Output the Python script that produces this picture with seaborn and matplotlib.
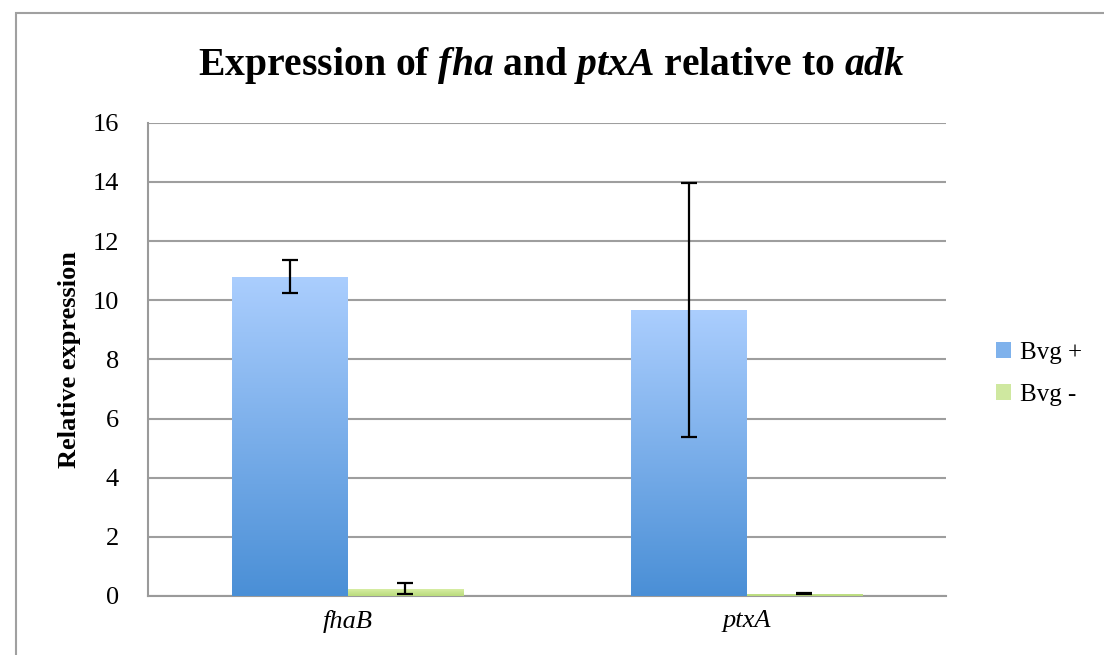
import numpy as np
import pandas as pd
import matplotlib
matplotlib.use("Agg")
import matplotlib.pyplot as plt
import seaborn as sns
from matplotlib.patches import Rectangle, Patch
from matplotlib.colors import LinearSegmentedColormap

genes = ["fhaB", "ptxA"]
conditions = ["Bvg +", "Bvg -"]
bvg_plus = [10.80, 9.67]
bvg_plus_err = [0.56, 4.29]
bvg_minus = [0.25, 0.08]
bvg_minus_err = [0.18, 0.02]
yticks = [0, 2, 4, 6, 8, 10, 12, 14, 16]

df = pd.DataFrame({
    "gene": genes * 2,
    "condition": [conditions[0]] * 2 + [conditions[1]] * 2,
    "value": bvg_plus + bvg_minus,
    "err": bvg_plus_err + bvg_minus_err,
})

sns.set_theme(style="white")
plt.rcParams["font.family"] = ["Liberation Serif", "DejaVu Serif"]
plt.rcParams["text.color"] = "black"
plt.rcParams["axes.labelcolor"] = "black"
plt.rcParams["xtick.color"] = "black"
plt.rcParams["ytick.color"] = "black"
plt.rcParams["mathtext.fontset"] = "custom"
plt.rcParams["mathtext.it"] = "Liberation Serif:italic"
plt.rcParams["mathtext.bf"] = "Liberation Serif:bold"
plt.rcParams["mathtext.bfit"] = "Liberation Serif:italic:bold"
plt.rcParams["mathtext.rm"] = "Liberation Serif"

fig = plt.figure(figsize=(11.04, 6.55), dpi=100)
ax = fig.add_axes([148/1104, 1-596/655, (946-148)/1104, (596-122.7)/655])

blue_mid = "#6fa7e6"
green_mid = "#cbe597"
sns.barplot(data=df, x="gene", y="value", hue="condition", order=genes,
            hue_order=conditions, palette=[blue_mid, green_mid], width=0.577,
            ax=ax, errorbar=None, legend=False, saturation=1)

grads = {
    0: LinearSegmentedColormap.from_list("b", ["#4a8fd6", "#abcefe"]),
    1: LinearSegmentedColormap.from_list("g", ["#b9db7c", "#e2f4b2"]),
}
grad_img = np.linspace(0, 1, 256).reshape(-1, 1)
patches = list(ax.patches)
vals = df["value"].tolist()
errs = df["err"].tolist()
for i, p in enumerate(patches[:4]):
    hue_i = i // 2
    x0, w = p.get_x(), p.get_width()
    h = p.get_height()
    p.set_edgecolor("none")
    p.set_facecolor("none")
    top = max(h, 0.0)
    im = ax.imshow(grad_img, cmap=grads[hue_i], aspect="auto", origin="lower",
                   extent=[x0, x0 + w, 0, top if hue_i == 0 else max(top, 0.3)],
                   zorder=3, interpolation="bicubic")
    im.set_clip_path(p)
    ax.errorbar(x0 + w/2, vals[i], yerr=errs[i], fmt="none", ecolor="black",
                elinewidth=1.6, capsize=5.8, capthick=1.6, zorder=4)

ax.set_xlim(-0.5, 1.5)
ax.set_ylim(0, 16)
ax.set_yticks(yticks)
ax.set_yticklabels([str(t) for t in yticks], fontsize=19)
ax.set_xticks([0, 1])
ax.set_xticklabels(genes, fontsize=19, style="italic")
ax.set_xticks([-0.5, 0.5, 1.5], minor=True)
ax.tick_params(axis="x", which="major", length=0, pad=10)
ax.tick_params(axis="x", which="minor", length=7, color="#9a9a9a", width=1.3, direction="out")
ax.tick_params(axis="y", which="major", length=6, color="#9a9a9a", width=1.3, direction="out", pad=15)
ax.yaxis.grid(True, color="#9e9e9e", linewidth=1.5)
ax.set_axisbelow(True)
for s in ["top", "right"]:
    ax.spines[s].set_visible(False)
for s in ["left", "bottom"]:
    ax.spines[s].set_color("#9a9a9a")
    ax.spines[s].set_linewidth(1.5)
ax.set_xlabel("")
ax.set_ylabel("Relative expression", fontsize=19, fontweight="bold", labelpad=8)

fig.text(0.5, 1-66/655,
         r"Expression of $\mathbfit{fha}$ and $\mathbfit{ptxA}$ relative to $\mathbfit{adk}$",
         ha="center", va="center", fontsize=28.5, fontweight="bold")

handles = [Patch(facecolor="#7fb2ec", edgecolor="none", label=conditions[0]),
           Patch(facecolor="#cfe8a0", edgecolor="none", label=conditions[1])]
fig.legend(handles=handles, loc="center left", bbox_to_anchor=(996/1104, 1-374/655),
           frameon=False, fontsize=18, handlelength=0.6, handleheight=0.6,
           handletextpad=0.35, labelspacing=0.8, borderaxespad=0, borderpad=0)

fig.patches.append(Rectangle((16/1104, -0.1), 2, 1 - 13/655 + 0.1, transform=fig.transFigure,
                             fill=False, edgecolor="#a0a0a0", linewidth=1.5, zorder=-1))

fig.savefig("out.png", dpi=100, facecolor="white")
